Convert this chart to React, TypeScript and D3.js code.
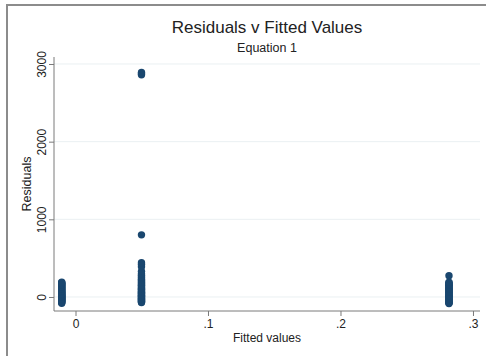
import * as d3 from "d3";
import { useEffect, useRef } from "react";

// fitted value of each group and the residuals seen at that value
const fittedValues = [-0.0104, 0.0498, 0.2819];
const residualsA = [-80, -72, -65, -58, -50, -44, -38, -30, -25, -18, -12, -5, 0, 6, 12, 18, 25, 31, 38, 45, 52, 60, 68, 75, 83, 92, 100, 110, 118, 126, 135, 145, 152, 160, 170, 178, 185, 192];
const residualsB = [-72, -65, -58, -50, -44, -36, -30, -22, -15, -8, 0, 8, 15, 22, 30, 38, 46, 55, 62, 70, 80, 90, 100, 110, 120, 130, 140, 150, 162, 175, 188, 200, 215, 230, 245, 260, 280, 300, 330, 390, 420, 440, 800, 2860, 2875, 2890];
const residualsC = [-85, -78, -70, -60, -50, -40, -30, -20, -10, 0, 10, 20, 30, 40, 50, 60, 70, 80, 90, 100, 110, 120, 130, 140, 150, 160, 170, 180, 190, 274];
const yTicks = [0, 1000, 2000, 3000];
const xTicks = [0, 0.1, 0.2, 0.3];
const xTickLabels = ["0", ".1", ".2", ".3"];

const App = () => {
    const svgRef = useRef(null);

    useEffect(() => {
        const svg = d3.select(svgRef.current);
        svg.selectAll("*").remove();

        const width = 486;
        const height = 356;
        const font = "'Liberation Sans', Arial, Helvetica, sans-serif";
        const left = 54, right = 480, top = 57, bottom = 311;

        svg.attr("width", width).attr("height", height);

        // outer frame (only top and left visible)
        svg.append("path")
            .attr("d", `M7,356 V5 H486`)
            .attr("fill", "none")
            .attr("stroke", "#8c8c8c")
            .attr("stroke-width", 2);

        const x = d3.scaleLinear().domain([-0.01623, 0.3053]).range([left, right]);
        const y = d3.scaleLinear().domain([-180.3, 3090]).range([bottom, top]);

        // gridlines
        svg.append("g")
            .selectAll("line")
            .data(yTicks)
            .enter()
            .append("line")
            .attr("x1", left)
            .attr("x2", right)
            .attr("y1", (d) => y(d))
            .attr("y2", (d) => y(d))
            .attr("stroke", "#eaf0f2")
            .attr("stroke-width", 1);

        // points
        const groups = [residualsA, residualsB, residualsC];
        const pts = groups.flatMap((g, i) => g.map((r) => ({ fx: fittedValues[i], r })));
        svg.append("g")
            .selectAll("circle")
            .data(pts)
            .enter()
            .append("circle")
            .attr("cx", (d) => x(d.fx))
            .attr("cy", (d) => y(d.r))
            .attr("r", 3.7)
            .attr("fill", "#1a476f");

        // y axis
        const yAxis = svg.append("g")
            .attr("transform", `translate(${left},0)`)
            .call(d3.axisLeft(y).tickValues(yTicks).tickFormat(d3.format("d")).tickSize(5).tickPadding(3));
        yAxis.select(".domain").attr("d", `M0,${top}V${bottom}`).attr("stroke", "#7a7a7a");
        yAxis.selectAll(".tick line").attr("stroke", "#7a7a7a");
        yAxis.selectAll(".tick text")
            .attr("font-family", font)
            .attr("font-size", 12)
            .attr("fill", "#222")
            .attr("text-anchor", "middle")
            .attr("x", null)
            .attr("dy", null)
            .attr("transform", "translate(-8,0) rotate(-90)");

        // x axis
        const xAxis = svg.append("g")
            .attr("transform", `translate(0,${bottom})`)
            .call(d3.axisBottom(x).tickValues(xTicks).tickFormat((d, i) => xTickLabels[i]).tickSize(5).tickPadding(3));
        xAxis.select(".domain").attr("d", `M${left},0H${right}`).attr("stroke", "#7a7a7a");
        xAxis.selectAll(".tick line").attr("stroke", "#7a7a7a");
        xAxis.selectAll(".tick text")
            .attr("font-family", font)
            .attr("font-size", 12)
            .attr("fill", "#222");

        // titles
        svg.append("text")
            .attr("x", 267).attr("y", 33)
            .attr("text-anchor", "middle")
            .attr("font-family", font)
            .attr("font-size", 17)
            .attr("fill", "#222")
            .text("Residuals v Fitted Values");
        svg.append("text")
            .attr("x", 267).attr("y", 52)
            .attr("text-anchor", "middle")
            .attr("font-family", font)
            .attr("font-size", 12.5)
            .attr("fill", "#222")
            .text("Equation 1");
        svg.append("text")
            .attr("x", 267).attr("y", 342)
            .attr("text-anchor", "middle")
            .attr("font-family", font)
            .attr("font-size", 12)
            .attr("fill", "#222")
            .text("Fitted values");
        svg.append("text")
            .attr("transform", "translate(31,184) rotate(-90)")
            .attr("text-anchor", "middle")
            .attr("font-family", font)
            .attr("font-size", 12.5)
            .attr("fill", "#222")
            .text("Residuals");
    }, []);

    return <svg ref={svgRef} style={{ position: "absolute", left: 0, top: 0 }}></svg>;
};

export default App;
